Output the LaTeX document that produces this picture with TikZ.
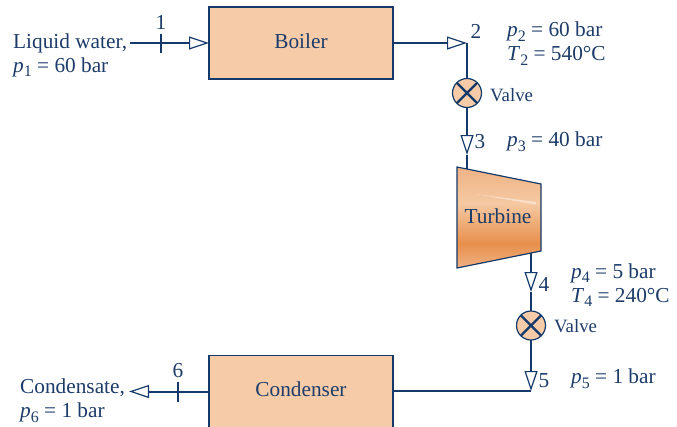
\documentclass[tikz,border=0pt]{standalone}
\usepackage{fontspec}
\setmainfont{Liberation Serif}
\usepackage{tikz}
\usetikzlibrary{arrows.meta, positioning}
\definecolor{lineNavy}{HTML}{143A6B}
\definecolor{textNavy}{HTML}{1D3C6A}
\definecolor{boxPeach}{HTML}{F6CBA8}
\definecolor{turbineDark}{HTML}{E88F4C}
\definecolor{turbineEdge}{HTML}{EFB285}
\definecolor{turbineLight}{HTML}{F5C9A2}
\pgfdeclareverticalshading{turbineFill}{100bp}{
  color(0bp)=(turbineEdge);
  color(25bp)=(turbineEdge);
  color(37bp)=(turbineDark);
  color(57bp)=(turbineLight);
  color(75bp)=(turbineEdge);
  color(100bp)=(turbineEdge)}
\newcommand{\sbs}[2]{\textit{#1}\raisebox{-0.22em}{\fontsize{16}{16}\selectfont #2}}

\begin{document}
\begin{tikzpicture}[
    x=1pt, y=-1pt,
    every node/.style={text=textNavy},
    box/.style={draw=lineNavy, line width=1.2pt, fill=boxPeach, outer sep=0pt, text depth=4pt,
                minimum width=184pt, minimum height=72pt, font=\fontsize{21.3}{24}\selectfont},
    note/.style={anchor=west, align=left, inner sep=0pt, font=\fontsize{21.3}{24}\selectfont},
    num/.style={inner sep=0pt, font=\fontsize{21.3}{24}\selectfont},
    small/.style={anchor=west, inner sep=0pt, font=\fontsize{18.8}{20}\selectfont},
    valve/.style={circle, draw=lineNavy, line width=1.2pt, fill=boxPeach, minimum size=29pt,
                  inner sep=0pt, outer sep=0pt,
                  path picture={\draw[lineNavy, line width=2.4pt]
                    (path picture bounding box.north west) -- (path picture bounding box.south east)
                    (path picture bounding box.north east) -- (path picture bounding box.south west);}},
    pipe/.style={draw=lineNavy, line width=2pt},
    arr/.style={pipe, -{Triangle[fill=white, length=20pt, width=13pt, line width=1.2pt]}},
    tick/.style={draw=lineNavy, line width=1.1pt}
]
  \clip (0,0) rectangle (677,426);
  \fill[white] (0,0) rectangle (677,426);

  % boxes
  \node[box] (boiler) at (301,43) {Boiler};
  \node[box, below=276.5pt of boiler] (condenser) {Condenser};
  \node[valve] (valveA) at (467,93) {};
  \node[valve] (valveB) at (531,325.5) {};

  % turbine
  \coordinate (turbineIn) at (467,169);
  \coordinate (turbineOut) at (531,253);
  \path[draw=lineNavy, line width=1.2pt, shading=turbineFill]
    (457,167) -- (541,184) -- (541,251) -- (457,268) -- cycle;
  \fill[white, opacity=0.45] (475,194) -- (536,202) -- (536,204.5) -- cycle;
  \node[inner sep=0pt, font=\fontsize{21.3}{24}\selectfont] (turbine) at (498,216) {Turbine};

  % stream points
  \coordinate (inlet) at (130,43);
  \coordinate (pointB) at (467,43);
  \coordinate (pointC) at (467,155);
  \coordinate (pointD) at (531,292);
  \coordinate (pointE) at (531,391);
  \coordinate (outlet) at (129,391.5);

  % pipes
  \draw[arr] (inlet) -- (boiler.west);
  \draw[arr] (boiler.east) -- (pointB);
  \draw[pipe] (pointB) -- (valveA.north);
  \draw[arr] (valveA.south) -- (pointC);
  \draw[pipe] (pointC) -- (turbineIn);
  \draw[arr] (turbineOut) -- (pointD);
  \draw[pipe] (pointD) -- (valveB.north);
  \draw[arr] (valveB.south) -- (pointE);
  \draw[pipe] (pointE) -- (condenser.east |- pointE);
  \draw[arr] (condenser.west) -- (outlet);

  % stream numbers
  \node[num] (numA) at (161,22) {1};
  \node[num] (numB) at (476,31) {2};
  \node[num] (numC) at (480,142) {3};
  \node[num] (numD) at (544,284) {4};
  \node[num] (numE) at (544,381) {5};
  \node[num] (numF) at (178,371) {6};
  \coordinate (tickA) at (161,53);
  \coordinate (tickF) at (178,402);
  \draw[tick] (numA |- 0,34) -- (tickA);
  \draw[tick] (numF |- 0,382) -- (tickF);

  % labels
  \node[note] (inletText) at (13,55) {Liquid water,\\\sbs{p}{1} = 60 bar};
  \node[note] (outletText) at (20,401) {Condensate,\\\sbs{p}{6} = 1 bar};
  \node[note] (stateB) at (507,43.5) {\sbs{p}{2} = 60 bar\\\sbs{T}{2} = 540°C};
  \node[note] (stateC) at (507,142) {\sbs{p}{3} = 40 bar};
  \node[note] (stateD) at (571,285) {\sbs{p}{4} = 5 bar\\\sbs{T}{4} = 240°C};
  \node[note] (stateE) at (571,379) {\sbs{p}{5} = 1 bar};
  \node[small] (valveTextA) at (490,95) {Valve};
  \node[small] (valveTextB) at (554,326) {Valve};
\end{tikzpicture}
\end{document}
